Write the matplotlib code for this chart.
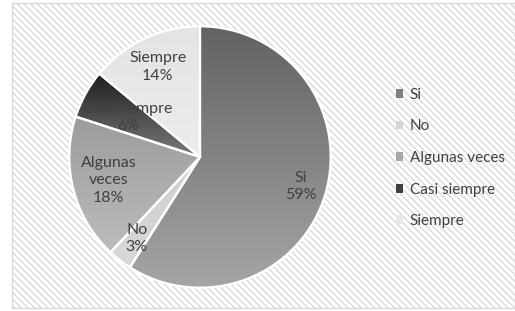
import numpy as np
import matplotlib
matplotlib.use("Agg")
import matplotlib.pyplot as plt
from matplotlib.patches import Rectangle

labels = ["Si", "No", "Algunas veces", "Casi siempre", "Siempre"]
values = [59, 3, 18, 6, 14]
# top / bottom shade of each wedge's vertical gradient
shade_top = ["#626262", "#cfcfcf", "#9c9c9c", "#1e1e1e", "#e4e4e4"]
shade_bot = ["#a6a6a6", "#d8d8d8", "#bcbcbc", "#7a7a7a", "#ececec"]
legend_colors = ["#808080", "#d4d4d4", "#a8a8a8", "#404040", "#e8e8e8"]
label_r = [0.80, 0.79, 0.72, 0.63, 0.76]

plt.rcParams["font.family"] = ["Lato", "DejaVu Sans"]
plt.rcParams["hatch.color"] = "#ececec"
plt.rcParams["hatch.linewidth"] = 1.0

W, H = 515, 311
fig = plt.figure(figsize=(W / 100, H / 100), dpi=100)

# hatched chart-area background and border
bg = Rectangle((12 / W, 3 / H), (W - 12) / W, (H - 6) / H, transform=fig.transFigure,
               facecolor="white", edgecolor="#d9d9d9", hatch="\\\\\\\\\\", lw=1.0, zorder=-5)
fig.patches.append(bg)

cx, cy, R = 200, 311 - 157, 132
ax = fig.add_axes([(cx - R) / W, (cy - R) / H, 2 * R / W, 2 * R / H])
ax.set_zorder(1)
ax.axis("off")

wedges, _ = ax.pie(values, startangle=90, counterclock=False, radius=1,
                   wedgeprops=dict(edgecolor="white", linewidth=1.6))


def hex2rgb(h):
    return np.array([int(h[i:i + 2], 16) / 255 for i in (1, 3, 5)])


for i, w in enumerate(wedges):
    # extent of wedge in y for the gradient
    path = w.get_path()
    verts = w.get_patch_transform().transform(path.vertices)
    y0, y1 = verts[:, 1].min(), verts[:, 1].max()
    t = np.linspace(0, 1, 256)[:, None]
    c0, c1 = hex2rgb(shade_top[i]), hex2rgb(shade_bot[i])
    grad = (c0[None, :] * (1 - t) + c1[None, :] * t)[:, None, :]
    w.set_facecolor("none")
    im = ax.imshow(grad, extent=(-1, 1, y0, y1), origin="upper", aspect="auto", zorder=1)
    im.set_clip_path(w)
    w.set_zorder(2)

    ang = np.deg2rad((w.theta1 + w.theta2) / 2)
    r = label_r[i]
    txt = labels[i]
    if txt == "Algunas veces":
        txt = "Algunas\nveces"
    ax.text(r * np.cos(ang), r * np.sin(ang), f"{txt}\n{values[i]}%",
            ha="center", va="center", fontsize=11.5, color="#404040",
            linespacing=1.3, zorder=3)

ax.set_xlim(-1.01, 1.01)
ax.set_ylim(-1.01, 1.01)
ax.set_aspect("equal")

handles = [Rectangle((0, 0), 1, 1, facecolor=c, edgecolor="none") for c in legend_colors]
leg = fig.legend(handles, labels, loc="center left", bbox_to_anchor=(382 / W, 1 - 158 / H),
                 frameon=False, fontsize=11, handlelength=0.5, handleheight=0.5,
                 handletextpad=0.4, labelspacing=1.15, labelcolor="#404040")

fig.savefig("out.png", dpi=100)
